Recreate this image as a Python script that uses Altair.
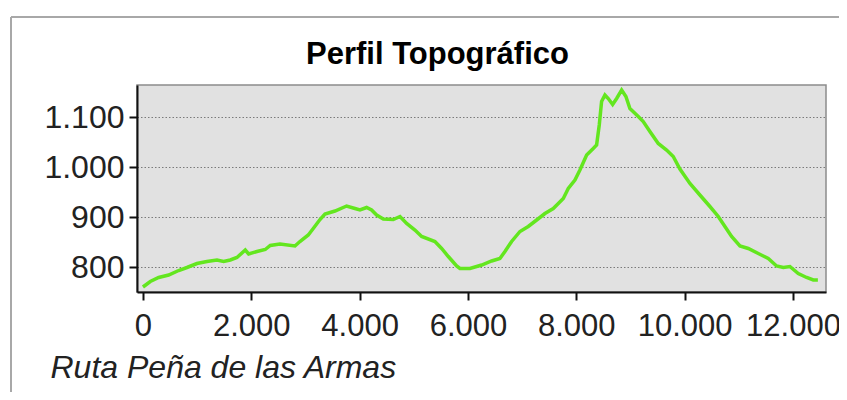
import altair as alt
import pandas as pd

# Distance along the route (m) and elevation (m)
distance = [0, 135, 290, 474, 659, 812, 997, 1181, 1366, 1489, 1612, 1735, 1889, 1951,
            2105, 2258, 2350, 2529, 2806, 2898, 3052, 3144, 3268, 3360, 3545, 3760, 3914,
            4006, 4129, 4221, 4314, 4437, 4621, 4745, 4868, 5021, 5145, 5390, 5514, 5637,
            5791, 5852, 6037, 6253, 6437, 6590, 6683, 6806, 6960, 7113, 7268, 7421, 7575,
            7760, 7852, 7975, 8067, 8191, 8313, 8375, 8424, 8467, 8529, 8590, 8671, 8745,
            8837, 8916, 8990, 9144, 9236, 9359, 9513, 9667, 9790, 9913, 10098, 10282,
            10467, 10621, 10744, 10867, 11021, 11175, 11360, 11544, 11698, 11821, 11944,
            12098, 12252, 12375, 12460]
elevation = [760, 771, 779, 784, 793, 799, 807, 811, 814, 811, 814, 819, 834, 826,
             831, 835, 843, 846, 842, 851, 864, 877, 895, 906, 912, 922, 917,
             914, 919, 914, 904, 896, 895, 901, 887, 874, 861, 851, 837, 821,
             802, 797, 797, 804, 812, 817, 831, 851, 871, 881, 894, 907, 917,
             937, 957, 974, 994, 1024, 1037, 1044, 1084, 1131, 1144, 1137, 1125, 1137,
             1154, 1141, 1117, 1101, 1091, 1071, 1047, 1034, 1021, 996, 967, 944,
             921, 901, 881, 861, 842, 837, 827, 817, 802, 799, 801,
             787, 779, 774, 774]

x_ticks = [0, 2000, 4000, 6000, 8000, 10000, 12000]
y_ticks = [800, 900, 1000, 1100]

df = pd.DataFrame({"distancia": distance, "altitud": elevation})

FONT = "Liberation Sans"
label_expr = "replace(format(datum.value, ','), ',', '.')"

line = alt.Chart(df).mark_line(color="#63e61f", strokeWidth=3.5).encode(
    x=alt.X("distancia:Q",
            scale=alt.Scale(domain=[-110, 12610], nice=False, zero=False),
            axis=alt.Axis(values=x_ticks, labelExpr=label_expr, grid=False,
                          title="Ruta Peña de las Armas",
                          titleAnchor="start", titleAlign="left",
                          titleX=-87, titleY=85, titleBaseline="alphabetic",
                          titleFont=FONT, titleFontSize=32, titleFontStyle="italic",
                          titleFontWeight="normal", titleColor="#222222",
                          labelFont=FONT, labelFontSize=31, labelColor="#222222",
                          labelPadding=11, tickSize=8, tickWidth=2, tickColor="#111111",
                          domainColor="#111111", domainWidth=2, labelFlush=False)),
    y=alt.Y("altitud:Q",
            scale=alt.Scale(domain=[750, 1164], nice=False, zero=False),
            axis=alt.Axis(values=y_ticks, labelExpr=label_expr, title=None,
                          grid=True, gridColor="#7a7a7a", gridDash=[1.5, 2], gridWidth=1,
                          labelFont=FONT, labelFontSize=32, labelColor="#222222",
                          labelPadding=5, tickSize=8, tickWidth=2, tickColor="#111111",
                          domainColor="#111111", domainWidth=2)),
)

frame_top = alt.Chart(df).mark_rule(color="#a8a8a8", strokeWidth=2).encode(
    x=alt.value(-126), x2=alt.value(720), y=alt.value(-68))
frame_left = alt.Chart(df).mark_rule(color="#a8a8a8", strokeWidth=2).encode(
    x=alt.value(-126), y=alt.value(-68), y2=alt.value(320))

chart = alt.layer(frame_top, frame_left, line).properties(
    width=689, height=207,
    title=alt.TitleParams("Perfil Topográfico", font=FONT, fontSize=31,
                          fontWeight="bold", color="#000000", anchor="middle",
                          dx=-44, dy=59),
    autosize=alt.AutoSizeParams(type="none"),
    padding={"left": 129, "top": 77, "right": 13, "bottom": 100},
    background="white",
).configure_view(fill="#e1e1e1", stroke="#8c8c8c", strokeWidth=1.5)

chart.save("out.html", embed_options={"renderer": "svg", "actions": False})
